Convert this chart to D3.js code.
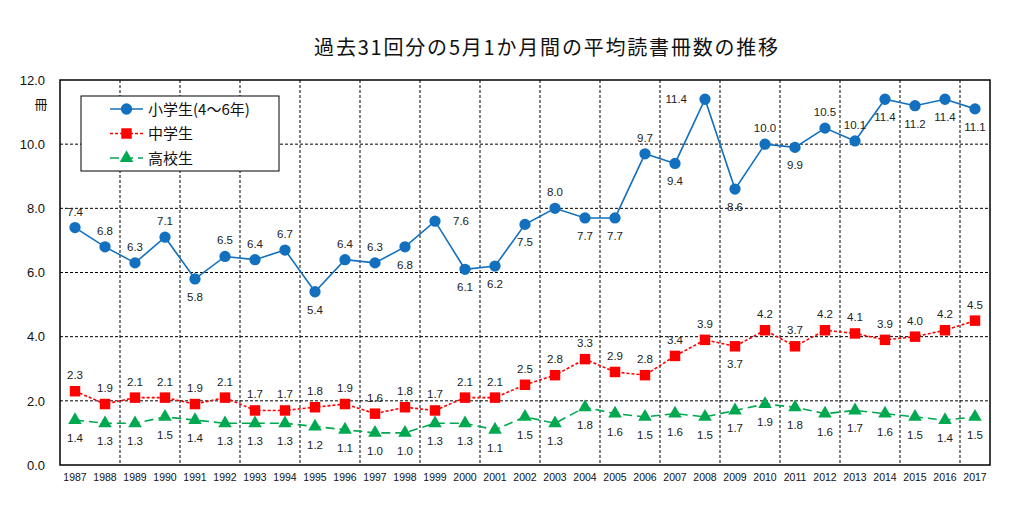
<!DOCTYPE html>
<html><head><meta charset="utf-8">
<script src="https://cdn.jsdelivr.net/npm/d3@7"></script>
<style>
body{margin:0;background:#fff;}
text{font-family:"Noto Sans CJK JP","Liberation Sans",Arial,sans-serif;}
text.num{font-family:"Liberation Sans",Arial,sans-serif;}
</style></head>
<body><svg id="c" width="1024" height="512"></svg>
<script>
const years = [1987,1988,1989,1990,1991,1992,1993,1994,1995,1996,1997,1998,1999,2000,2001,2002,2003,2004,2005,2006,2007,2008,2009,2010,2011,2012,2013,2014,2015,2016,2017];
const elementary = [7.4,6.8,6.3,7.1,5.8,6.5,6.4,6.7,5.4,6.4,6.3,6.8,7.6,6.1,6.2,7.5,8.0,7.7,7.7,9.7,9.4,11.4,8.6,10.0,9.9,10.5,10.1,11.4,11.2,11.4,11.1];
const juniorHigh = [2.3,1.9,2.1,2.1,1.9,2.1,1.7,1.7,1.8,1.9,1.6,1.8,1.7,2.1,2.1,2.5,2.8,3.3,2.9,2.8,3.4,3.9,3.7,4.2,3.7,4.2,4.1,3.9,4.0,4.2,4.5];
const highSchool = [1.4,1.3,1.3,1.5,1.4,1.3,1.3,1.3,1.2,1.1,1.0,1.0,1.3,1.3,1.1,1.5,1.3,1.8,1.6,1.5,1.6,1.5,1.7,1.9,1.8,1.6,1.7,1.6,1.5,1.4,1.5];
const yTicks = [0,2,4,6,8,10,12];
const seriesNames = ["小学生(4～6年)","中学生","高校生"];
const title = "過去31回分の5月1か月間の平均読書冊数の推移";
const unitLabel = "冊";
// label placement codes (t=top, b=bottom, l=left, r=right)
const elementaryPlace = ["t","t","t","t","b","t","t","t","b","t","t","b","r","b","b","b","t","b","b","t","b","l","b","t","b","t","t","b","b","b","b"];
const juniorPlace = years.map(y => y===2009 ? "b" : "t");
const highPlace = years.map(() => "b");

const svg = d3.select("#c");
const m = {l:60, r:990, t:80, b:465};
const x = d3.scaleBand().domain(years).range([m.l, m.r]);
const y = d3.scaleLinear().domain([0,12]).range([m.b, m.t]);
const cx = d => x(d) + x.bandwidth()/2;

svg.append("text").attr("x",547).attr("y",55).attr("text-anchor","middle")
  .attr("font-size",20).attr("letter-spacing",1.8).attr("fill","#111").text(title);

// grid horizontal
svg.append("g").selectAll("line").data(yTicks.filter(v=>v>0&&v<12)).join("line")
  .attr("x1",m.l).attr("x2",m.r).attr("y1",d=>y(d)).attr("y2",d=>y(d))
  .attr("stroke","#000").attr("stroke-width",1).attr("stroke-dasharray","3,2");
// grid vertical every 2 years
svg.append("g").selectAll("line").data(years.filter((d,i)=>i>0 && i%2===0)).join("line")
  .attr("x1",d=>x(d)).attr("x2",d=>x(d)).attr("y1",m.t).attr("y2",m.b)
  .attr("stroke","#000").attr("stroke-width",1).attr("stroke-dasharray","3,2");
svg.append("rect").attr("x",m.l).attr("y",m.t).attr("width",m.r-m.l).attr("height",m.b-m.t)
  .attr("fill","none").attr("stroke","#000").attr("stroke-width",1.5);

// y axis
const ya = svg.append("g").attr("transform",`translate(${m.l},0)`)
  .call(d3.axisLeft(y).tickValues(yTicks).tickFormat(d3.format(".1f")).tickSize(0).tickPadding(15));
ya.select(".domain").remove();
ya.selectAll("text").attr("class","num").attr("font-size",13).attr("fill","#111");
svg.append("text").attr("x",41).attr("y",109).attr("text-anchor","middle").attr("font-size",13).attr("fill","#111").text(unitLabel);

// x axis
const xa = svg.append("g").attr("transform",`translate(0,${m.b})`)
  .call(d3.axisBottom(x).tickSize(0).tickPadding(9));
xa.select(".domain").remove();
xa.selectAll("text").attr("class","num").attr("font-size",10.5).attr("fill","#111");

const series = [
  {vals:elementary, place:elementaryPlace, color:"#1370BE", dash:null, shape:"circle"},
  {vals:juniorHigh, place:juniorPlace, color:"#FF0000", dash:"3,2", shape:"square"},
  {vals:highSchool, place:highPlace, color:"#00A84F", dash:"9,5", shape:"triangle"}
];
const symGen = {
  circle: d3.symbol().type(d3.symbolCircle).size(100),
  square: d3.symbol().type(d3.symbolSquare).size(110),
  triangle: d3.symbol().type(d3.symbolTriangle).size(80)
};
const line = d3.line().x((d,i)=>cx(years[i])).y(d=>y(d));
series.forEach(s=>{
  svg.append("path").datum(s.vals).attr("d",line).attr("fill","none")
    .attr("stroke",s.color).attr("stroke-width",1.6).attr("stroke-dasharray",s.dash);
  svg.append("g").selectAll("path").data(s.vals).join("path")
    .attr("d",symGen[s.shape]).attr("fill",s.color)
    .attr("transform",(d,i)=>`translate(${cx(years[i])},${y(d)})`);
  svg.append("g").selectAll("text").data(s.vals).join("text")
    .attr("class","num")
    .attr("x",(d,i)=>{const p=s.place[i]; return cx(years[i]) + (p==="r"?18:p==="l"?-18:0);})
    .attr("y",(d,i)=>{const p=s.place[i]; return y(d) + (p==="t"?-12:p==="b"?22:4);})
    .attr("text-anchor",(d,i)=>{const p=s.place[i]; return p==="r"?"start":p==="l"?"end":"middle";})
    .attr("font-size",11.5).attr("fill","#222")
    .text(d=>d.toFixed(1));
});

// legend
const lg = svg.append("g");
lg.append("rect").attr("x",81).attr("y",96).attr("width",198).attr("height",75)
  .attr("fill","#fff").attr("stroke","#000").attr("stroke-width",1);
series.forEach((s,i)=>{
  const yy = 109 + i*24.5;
  lg.append("line").attr("x1",110).attr("x2",143).attr("y1",yy).attr("y2",yy)
    .attr("stroke",s.color).attr("stroke-width",1.6).attr("stroke-dasharray",s.dash);
  lg.append("path").attr("d",symGen[s.shape]).attr("fill",s.color).attr("transform",`translate(126.5,${yy})`);
  lg.append("text").attr("x",148).attr("y",yy+5.5).attr("font-size",15).attr("fill","#111").text(seriesNames[i]);
});
</script></body></html>
